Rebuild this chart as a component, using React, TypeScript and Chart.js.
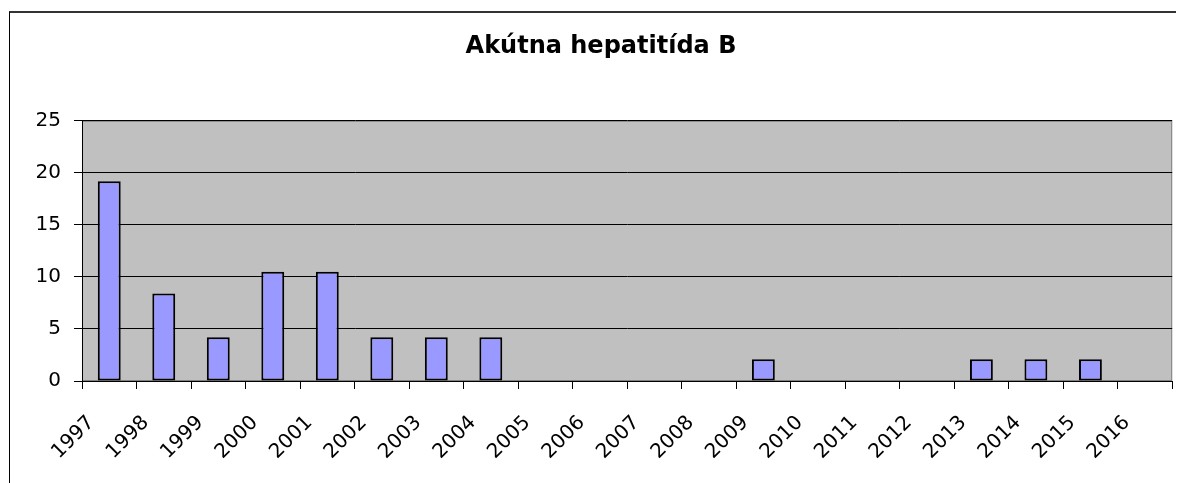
import React, { useEffect, useRef } from "react";
import { Chart, registerables } from "chart.js";

Chart.register(...registerables);

const titleText = "Akútna hepatitída B";
const years = ["1997","1998","1999","2000","2001","2002","2003","2004","2005","2006","2007","2008","2009","2010","2011","2012","2013","2014","2015","2016"];
const values = [19.2, 8.4, 4.2, 10.5, 10.5, 4.2, 4.2, 4.2, 0, 0, 0, 0, 2.1, 0, 0, 0, 2.1, 2.1, 2.1, 0];
const yMin = 0;
const yMax = 25;
const yStep = 5;

const plotBg = {
  id: "plotBg",
  beforeDraw(chart: any) {
    const { ctx, chartArea } = chart;
    if (!chartArea) return;
    ctx.save();
    ctx.fillStyle = "#C0C0C0";
    ctx.fillRect(chartArea.left, chartArea.top, chartArea.right - chartArea.left, chartArea.bottom - chartArea.top);
    ctx.strokeStyle = "#808080";
    ctx.lineWidth = 1;
    ctx.strokeRect(chartArea.left + 0.5, chartArea.top + 0.5, chartArea.right - chartArea.left - 1, chartArea.bottom - chartArea.top - 1);
    ctx.restore();
  },
};

export default function App() {
  const ref = useRef<HTMLCanvasElement | null>(null);
  useEffect(() => {
    if (!ref.current) return;
    const chart = new Chart(ref.current, {
      type: "bar",
      data: {
        labels: years,
        datasets: [
          {
            data: values,
            backgroundColor: "#9999FF",
            borderColor: "#000000",
            borderWidth: (c: any) => (c.raw === 0 ? 0 : 2),
            borderSkipped: false,
            categoryPercentage: 1,
            barPercentage: 0.42,
          },
        ],
      },
      options: {
        responsive: false,
        animation: false,
        layout: { padding: { left: 14, right: 4, top: 0, bottom: 0 } },
        plugins: {
          legend: { display: false },
          tooltip: { enabled: false },
          title: {
            display: true,
            text: titleText,
            color: "#000",
            font: { family: "DejaVu Sans", size: 24, weight: "bold" },
            padding: { top: 24, bottom: 60 },
          },
        },
        scales: {
          x: {
            grid: {
              display: true,
              drawOnChartArea: false,
              drawTicks: true,
              tickLength: 8,
              color: "#000",
              offset: true,
            },
            border: { display: true, color: "#000", width: 1 },
            ticks: {
              color: "#000",
              font: { family: "DejaVu Sans", size: 20 },
              maxRotation: 45,
              minRotation: 45,
              autoSkip: false,
              padding: 22,
              labelOffset: -18,
            },
            afterFit: (s: any) => {
              s.height = 102;
            },
          },
          y: {
            min: yMin,
            max: yMax,
            grid: {
              color: "#000",
              lineWidth: 1,
              drawTicks: true,
              tickLength: 8,
            },
            border: { display: true, color: "#000", width: 1 },
            ticks: {
              stepSize: yStep,
              color: "#000",
              font: { family: "DejaVu Sans", size: 20 },
              padding: 13,
            },
            afterFit: (s: any) => {
              s.width = 60;
            },
          },
        },
      },
      plugins: [plotBg],
    } as any);
    return () => chart.destroy();
  }, []);
  return (
    <div style={{ position: "relative", width: 1176, height: 475, overflow: "hidden" }}>
      <div
        style={{
          position: "absolute",
          left: 1,
          top: 3,
          width: 1200,
          height: 500,
          borderLeft: "1px solid #000",
          borderTop: "2px solid #333",
          pointerEvents: "none",
        }}
      />
      <canvas ref={ref} width={1176} height={475} style={{ position: "absolute", left: 0, top: 0 }} />
    </div>
  );
}
